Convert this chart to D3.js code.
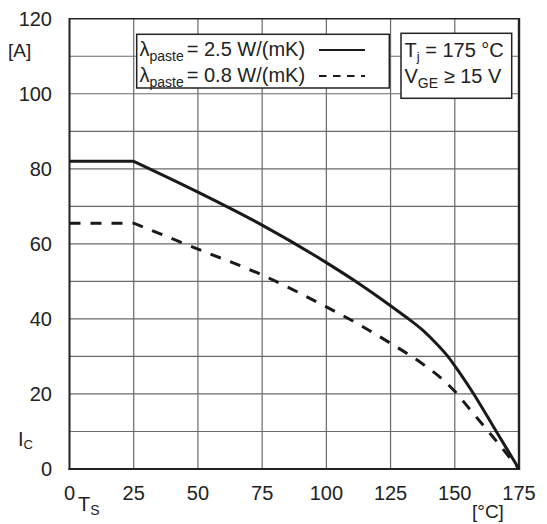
<!DOCTYPE html>
<html><head><meta charset="utf-8">
<script src="https://cdn.jsdelivr.net/npm/d3@7"></script>
<style>
body{margin:0;background:#fff;}
text{font-family:"Liberation Sans",Arial,sans-serif;fill:#222;}
</style></head>
<body>
<svg id="c" width="547" height="524"></svg>
<script>
const xTicks = [0, 25, 50, 75, 100, 125, 150, 175];
const yTicks = [0, 20, 40, 60, 80, 100, 120];
const yGrid = [10, 20, 30, 40, 50, 60, 70, 80, 90, 100, 110];

const tempSolid = [0, 25, 50, 75, 100, 112.5, 125, 131, 137.5, 143, 147.3, 150, 157, 166, 175];
const icSolid   = [82, 82, 73.8, 65, 55, 49.5, 43.5, 40.5, 37, 33.3, 30, 27.5, 20.4, 10.2, 0];

const tempDashed = [0, 25, 50, 75, 100, 112.5, 125, 137.5, 145, 150, 156, 162.5, 175];
const icDashed   = [65.5, 65.5, 58.6, 51.7, 43.2, 38.6, 33.5, 28, 24, 20.7, 15.8, 10.5, 0];

const svg = d3.select("#c");
const x = d3.scaleLinear().domain([0, 175]).range([69.5, 519]);
const y = d3.scaleLinear().domain([0, 120]).range([469, 18.7]);

// grid
const g = svg.append("g");
g.selectAll(".hg").data(yGrid).enter().append("line")
  .attr("x1", x(0)).attr("x2", x(175))
  .attr("y1", d => y(d)).attr("y2", d => y(d))
  .attr("stroke", "#6a6a6a").attr("stroke-width", 1.2);
g.selectAll(".vg").data(xTicks.slice(1, -1)).enter().append("line")
  .attr("y1", y(0)).attr("y2", y(120))
  .attr("x1", d => x(d)).attr("x2", d => x(d))
  .attr("stroke", "#6a6a6a").attr("stroke-width", 1.2);

// frame
svg.append("line").attr("x1", x(0)).attr("x2", x(175)).attr("y1", y(120)).attr("y2", y(120)).attr("stroke", "#222").attr("stroke-width", 1.6);
svg.append("line").attr("x1", x(0)).attr("x2", x(0)).attr("y1", y(120) - 0.8).attr("y2", y(0) + 1).attr("stroke", "#222").attr("stroke-width", 2);
svg.append("line").attr("x1", x(175)).attr("x2", x(175)).attr("y1", y(120) - 0.8).attr("y2", y(0) + 1).attr("stroke", "#222").attr("stroke-width", 2.4);
svg.append("line").attr("x1", x(0) - 1).attr("x2", x(175) + 1).attr("y1", y(0)).attr("y2", y(0)).attr("stroke", "#222").attr("stroke-width", 2);

// curves
function pathFor(ts, vs) {
  const pts = ts.map((t, i) => [t, vs[i]]);
  const lin = `M${x(pts[0][0])},${y(pts[0][1])}`;
  const rest = d3.line().x(d => x(d[0])).y(d => y(d[1])).curve(d3.curveMonotoneX)(pts.slice(1));
  return lin + "L" + rest.substring(1);
}
svg.append("path").attr("d", pathFor(tempSolid, icSolid))
  .attr("fill", "none").attr("stroke", "#1a1a1a").attr("stroke-width", 3).attr("stroke-linejoin", "round");
svg.append("path").attr("d", pathFor(tempDashed, icDashed))
  .attr("fill", "none").attr("stroke", "#1a1a1a").attr("stroke-width", 3).attr("stroke-dasharray", "11,10");

// tick labels
const fs = 20;
svg.selectAll(".yl").data(yTicks).enter().append("text")
  .attr("x", 52).attr("y", d => y(d)).attr("dy", "0.36em")
  .attr("text-anchor", "end").attr("font-size", fs).text(d => d);
svg.selectAll(".xl").data(xTicks).enter().append("text")
  .attr("x", d => x(d)).attr("y", 493).attr("dy", "0.36em")
  .attr("text-anchor", "middle").attr("font-size", fs).text(d => d);

// axis unit labels
svg.append("text").attr("x", 8).attr("y", 57).attr("font-size", 19).text("[A]");
const ic = svg.append("text").attr("x", 18).attr("y", 446).attr("font-size", 20);
ic.append("tspan").text("I");
ic.append("tspan").attr("font-size", 13).attr("dy", 3).text("C");
const ts = svg.append("text").attr("x", 78).attr("y", 511).attr("font-size", 20);
ts.append("tspan").text("T");
ts.append("tspan").attr("font-size", 14).attr("dy", 4).attr("dx", 0).text("S");
svg.append("text").attr("x", 472).attr("y", 518).attr("font-size", 19).text("[°C]");

// legend 1
svg.append("rect").attr("x", 136.7).attr("y", 34.3).attr("width", 252.6).attr("height", 53.7)
  .attr("fill", "#fff").attr("stroke", "#222").attr("stroke-width", 1.5);
const leg = [
  {v: "= 2.5 W/(mK)", yb: 56, dash: null},
  {v: "= 0.8 W/(mK)", yb: 82, dash: "7.5,6.5"}
];
leg.forEach(l => {
  const t = svg.append("text").attr("x", 139.5).attr("y", l.yb).attr("font-size", 20);
  t.append("tspan").text("λ");
  t.append("tspan").attr("font-size", 14).attr("dy", 5).text("paste");
  t.append("tspan").attr("dy", -5).attr("dx", 3).text(l.v);
  svg.append("line").attr("x1", 319).attr("x2", 365).attr("y1", l.yb - 6).attr("y2", l.yb - 6)
    .attr("stroke", "#1a1a1a").attr("stroke-width", 2).attr("stroke-dasharray", l.dash);
});

// legend 2
svg.append("rect").attr("x", 401).attr("y", 33.3).attr("width", 110.7).attr("height", 65)
  .attr("fill", "#fff").attr("stroke", "#222").attr("stroke-width", 1.5);
const t1 = svg.append("text").attr("x", 404.5).attr("y", 57.3).attr("font-size", 20);
t1.append("tspan").text("T");
t1.append("tspan").attr("font-size", 13).attr("dy", 4).text("j");
t1.append("tspan").attr("dy", -4).text(" = 175 °C");
const t2 = svg.append("text").attr("x", 404.5).attr("y", 83.3).attr("font-size", 20);
t2.append("tspan").text("V");
t2.append("tspan").attr("font-size", 14).attr("dy", 5).text("GE");
t2.append("tspan").attr("dy", -5).text(" ≥ 15 V");
</script>
</body></html>
